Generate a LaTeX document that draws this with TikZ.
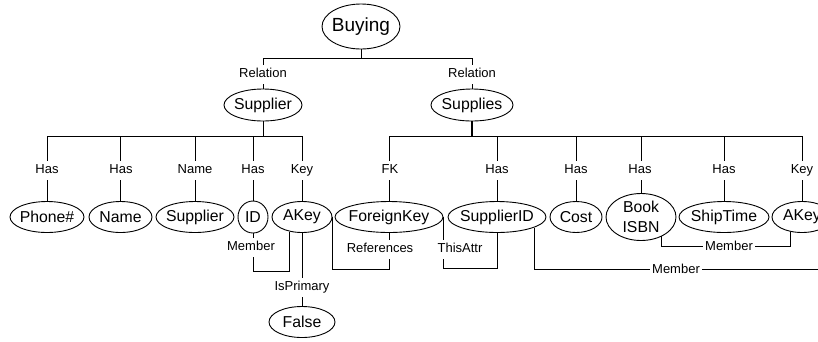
\documentclass[tikz,border=0pt]{standalone}
\usepackage{fontspec}
\setmainfont{Liberation Sans}
\usetikzlibrary{shapes.geometric}
\begin{document}
\begin{tikzpicture}[x=1pt,y=-1pt,
  ent/.style={ellipse,draw,line width=0.9pt,inner xsep=-6pt,inner ysep=-2pt,
    minimum height=31pt,font=\fontsize{15.8}{20}\selectfont},
  lbl/.style={fill=white,inner xsep=2pt,inner ysep=3.5pt,text height=9.5pt,text depth=2.5pt,
    font=\fontsize{13}{15}\selectfont},
  wire/.style={line width=0.9pt}]
\useasboundingbox (0,0) rectangle (818,341);

% entities
\node[ent,minimum width=78pt,minimum height=45pt,font=\fontsize{19}{22}\selectfont] (buy) at (361,26.5) {Buying};
\node[ent,minimum width=78pt,minimum height=32pt] (supr) at (263,105) {Supplier};
\node[ent,minimum width=82pt,minimum height=32pt] (sups) at (472,105) {Supplies};

\node[ent,minimum width=74pt] (phone) at (47,217) {Phone\#};
\node[ent,minimum width=63pt] (name) at (120.5,217) {Name};
\node[ent,minimum width=78pt] (supn) at (195,217) {Supplier};
\node[ent,minimum width=30pt,minimum height=32pt] (id) at (253,217) {ID};
\node[ent,minimum width=60pt] (akey) at (302,217) {AKey};
\node[ent,minimum width=108pt] (fk) at (389,217) {ForeignKey};
\node[ent,minimum width=98pt] (sid) at (497,217) {SupplierID};
\node[ent,minimum width=52pt] (cost) at (576,217) {Cost};
\node[ent,minimum width=70pt,minimum height=47pt,align=center] (book) at (641,217) {Book\\ISBN};
\node[ent,minimum width=90pt] (ship) at (724,217) {ShipTime};
\node[ent,minimum width=60pt] (akey2) at (802,217) {AKey};
\node[ent,minimum width=66pt] (false) at (302,322) {False};

% bus levels
\coordinate (b0) at (0,58);
\coordinate (b1) at (0,136);
\coordinate (m1) at (0,246);
\coordinate (m2) at (0,269);
\coordinate (mend) at (818,269);

% tree connectors
\draw[wire] (buy.south) -- (buy.south |- b0) -| (supr.north);
\draw[wire] (buy.south |- b0) -| (sups.north);
\foreach \c in {phone,name,supn,id,akey}
  \draw[wire] (supr.south) -- (supr.south |- b1) -| (\c.north);
\draw[line width=1.8pt] (sups.south) -- (sups.south |- b1);
\foreach \c in {fk,sid,cost,book,ship,akey2}
  \draw[wire] (sups.south |- b1) -| (\c.north);

% cross connectors
\draw[wire] (akey.south) -- (false.north);
\draw[wire] (id.south) -- ++(0,38) -| (akey.-131);
\draw[wire] (fk.south) -- ++(0,36) -| (akey.east);
\draw[wire] (fk.east) -- ++(0,51) -| (sid.south);
\draw[wire] (sid.-16) |- (mend);
\draw[wire] (book.-43) -- (book.-43 |- m1) -| (akey2.-128);

% connector labels
\node[lbl] (r1) at (263,74) {Relation};
\node[lbl] (r2) at (472,74) {Relation};
\node[lbl] (h1) at (47,170) {Has};
\node[lbl] (h2) at (121,170) {Has};
\node[lbl] (n1) at (195,170) {Name};
\node[lbl] (h3) at (253,170) {Has};
\node[lbl] (k1) at (302,170) {Key};
\node[lbl] (f1) at (390,170) {FK};
\node[lbl] (h4) at (497,170) {Has};
\node[lbl] (h5) at (576,170) {Has};
\node[lbl] (h6) at (640,170) {Has};
\node[lbl] (h7) at (724,170) {Has};
\node[lbl] (k2) at (802,170) {Key};
\node[lbl] (mb1) at (251,247) {Member};
\node[lbl] (ip) at (302,287) {IsPrimary};
\node[lbl] (ref) at (380,249) {References};
\node[lbl] (ta) at (460,249) {ThisAttr};
\node[lbl] (mb2) at (676,270) {Member};
\node[lbl] (mb3) at (729,247) {Member};
\end{tikzpicture}
\end{document}
